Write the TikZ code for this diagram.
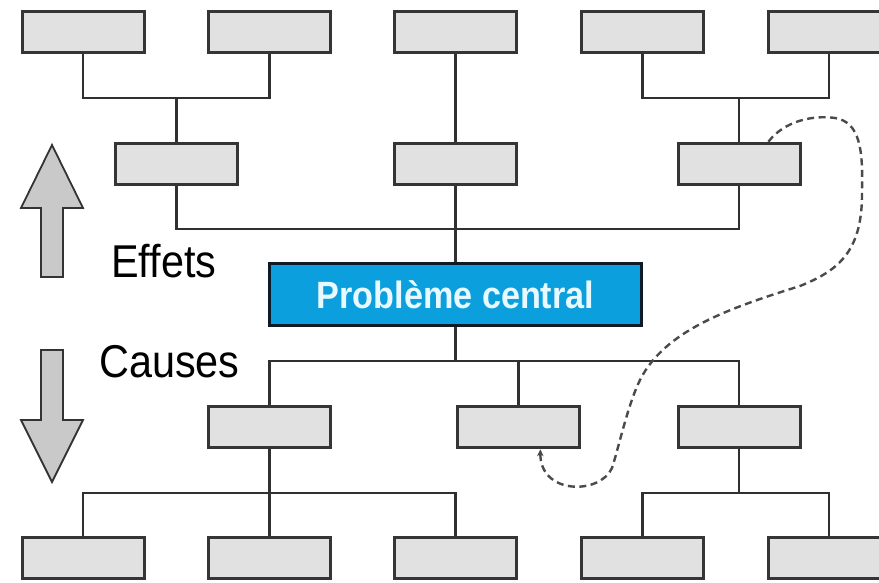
\documentclass[tikz,border=0pt]{standalone}
\usepackage{fontspec}
\setmainfont{Liberation Sans}
\newfontfamily\narrowfont[FakeStretch=0.9]{Liberation Sans}
\usetikzlibrary{arrows.meta,calc}
\definecolor{boxfill}{HTML}{E1E1E1}
\definecolor{boxline}{HTML}{353535}
\definecolor{linkcol}{HTML}{303030}
\definecolor{arrowfill}{HTML}{C9C9C9}
\definecolor{arrowline}{HTML}{333333}
\definecolor{dashcol}{HTML}{4A4A4A}
\definecolor{centralfill}{HTML}{0BA0DD}
\definecolor{centralline}{HTML}{0D1A28}
\definecolor{centraltext}{HTML}{E8F9FF}
\begin{document}
\begin{tikzpicture}[x=1pt,y=-1pt,
  gbox/.style={draw=boxline,fill=boxfill,line width=3pt,minimum width=122pt,minimum height=41.5pt,inner sep=0pt},
  link/.style={draw=linkcol,line width=2.6pt},
  bigarrow/.style={draw=arrowline,fill=arrowfill,line width=1.8pt,line join=miter},
  lbl/.style={font=\narrowfont\fontsize{46}{50}\selectfont,text=black,inner sep=0pt,anchor=base west},
  cbox/.style={draw=centralline,fill=centralfill,line width=3.2pt,minimum width=372pt,minimum height=62pt,inner sep=0pt,
    text=centraltext,font=\narrowfont\bfseries\fontsize{38}{42}\selectfont},
  feedback/.style={draw=dashcol,line width=2.4pt,dash pattern=on 7pt off 4.5pt,-{Stealth[length=7pt,width=6.5pt]}}
]
\clip (0,0) rectangle (879,583);
\fill[white] (0,0) rectangle (879,583);

% top row (effects)
\node[gbox] (t1) at (83,32) {};
\node[gbox] (t2) at (269.5,32) {};
\node[gbox] (t3) at (455.5,32) {};
\node[gbox] (t4) at (642.5,32) {};
\node[gbox] (t5) at (829,32) {};
% second row
\node[gbox] (s1) at (176.5,164) {};
\node[gbox] (s2) at (455.5,164) {};
\node[gbox] (s3) at (739,164) {};
% central problem
\node[cbox] (c) at (455.5,294.5) {Problème central};
% third row (causes)
\node[gbox] (u1) at (269.5,427) {};
\node[gbox] (u2) at (518.5,427) {};
\node[gbox] (u3) at (739,427) {};
% bottom row
\node[gbox] (w1) at (83,558) {};
\node[gbox] (w2) at (269.5,558) {};
\node[gbox] (w3) at (455.5,558) {};
\node[gbox] (w4) at (642.5,558) {};
\node[gbox] (w5) at (829,558) {};

% bus points
\coordinate (b1) at (176.5,98);
\coordinate (b2) at (739,98);
\coordinate (b3) at (455.5,229);
\coordinate (b4) at (455.5,361);
\coordinate (b5) at (269.5,493);
\coordinate (b6) at (739,493);

% connectors (effects)
\draw[link] (t1.south) |- (b1) -| (t2.south);
\draw[link] (b1) -- (s1.north);
\draw[link] (t4.south) |- (b2) -| (t5.south);
\draw[link] (b2) -- (s3.north);
\draw[link] (t3.south) -- (s2.north);
\draw[link] (s1.south) |- (b3) -| (s3.south);
\draw[link] (s2.south) -- (c.north);
% connectors (causes)
\draw[link] (c.south) -- (b4);
\draw[link] (u1.north) |- (b4) -| (u3.north);
\draw[link] (u2.north) -- (u2.north |- b4);
\draw[link] (u1.south) -- (w2.north);
\draw[link] (w1.north) |- (b5) -| (w3.north);
\draw[link] (u3.south) -- (b6);
\draw[link] (w4.north) |- (b6) -| (w5.north);

% big arrows
\draw[bigarrow] (41,277) -- (41,208) -- (21,208) -- (52,145) -- (83,208) -- (63,208) -- (63,277) -- cycle;
\draw[bigarrow] (41,350) -- (63,350) -- (63,420) -- (83,420) -- (52,482) -- (21,420) -- (41,420) -- cycle;

% labels
\node[lbl] (effets) at (111,277) {Effets};
\node[lbl] (causes) at (99,377) {Causes};

% dashed feedback loop
\draw[feedback] ($(s3.north west)!0.735!(s3.north east)$)
  .. controls (785,120) and (815,115) .. (835,118)
  .. controls (860,122) and (863,150) .. (862,190)
  .. controls (863,250) and (840,270) .. (800,286)
  .. controls (730,308) and (665,330) .. (640,380)
  .. controls (628,404) and (618,450) .. (612,468)
  .. controls (600,495) and (540,495) .. ($(u2.south west)!0.675!(u2.south east)$);
\end{tikzpicture}
\end{document}
